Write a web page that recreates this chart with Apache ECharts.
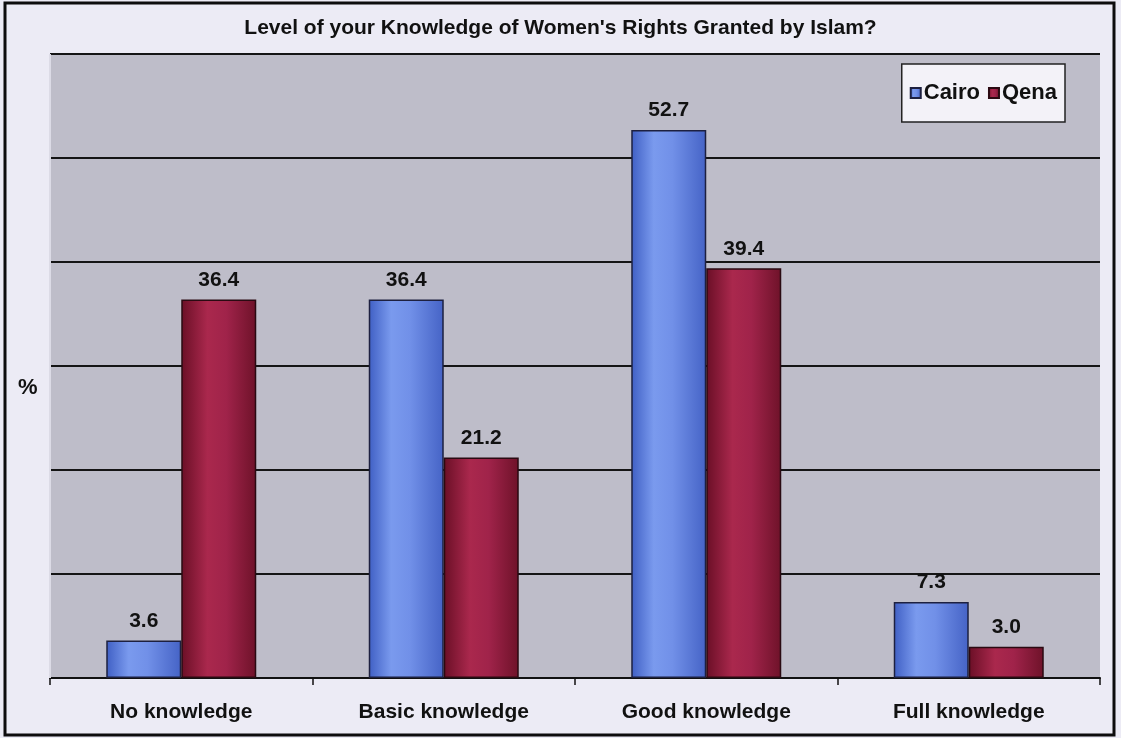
<!DOCTYPE html>
<html>
<head>
<meta charset="utf-8">
<script src="https://cdn.jsdelivr.net/npm/echarts@6/dist/echarts.min.js"></script>
<style>
  html, body { margin: 0; padding: 0; background: #ecebf5; }
  #chart { width: 1121px; height: 738px; }
</style>
</head>
<body>
<div id="chart"></div>
<script>
// Survey answers: share of respondents (%) per knowledge level
const categories = ['No knowledge', 'Basic knowledge', 'Good knowledge', 'Full knowledge'];
const seriesNames = ['Cairo', 'Qena'];
const cairoValues = [3.6, 36.4, 52.7, 7.3];
const qenaValues = [36.4, 21.2, 39.4, 3.0];
const titleText = "Level of your Knowledge of Women's Rights Granted by Islam?";
const yAxisTitle = '%';

const narrowBold = '"Liberation Sans Narrow", "Liberation Sans", Arial, sans-serif';
const plainBold = '"Liberation Sans", Arial, sans-serif';

// Cylinder-like horizontal shading for the bars
function shade(stops) {
  return new echarts.graphic.LinearGradient(0, 0, 1, 0,
    stops.map(([offset, color]) => ({ offset, color })));
}
const blueFill = shade([[0, '#3f5fc4'], [0.3, '#7a9aee'], [0.55, '#7190e8'], [1, '#4563c6']]);
const redFill = shade([[0, '#6a0f26'], [0.35, '#aa284d'], [0.6, '#a0234a'], [1, '#6e1229']]);

const chart = echarts.init(document.getElementById('chart'), null, { renderer: 'canvas' });

const valueLabel = {
  show: true,
  position: 'top',
  distance: 9,
  fontFamily: plainBold,
  fontWeight: 'bold',
  fontSize: 21,
  color: '#111',
  formatter: p => p.value.toFixed(1)
};

chart.setOption({
  backgroundColor: '#ecebf5',
  animation: false,
  title: {
    text: titleText,
    left: 'center',
    top: 13,
    textStyle: { fontFamily: narrowBold, fontWeight: 'bold', fontSize: 21, color: '#111' }
  },
  legend: {
    data: seriesNames,
    right: 56,
    top: 64,
    orient: 'horizontal',
    icon: 'rect',
    itemWidth: 10,
    itemHeight: 10,
    itemGap: 8,
    backgroundColor: '#f3f2f8',
    borderColor: '#222',
    borderWidth: 1.5,
    padding: [18, 8, 18, 8],
    textStyle: { fontFamily: narrowBold, fontWeight: 'bold', fontSize: 22, color: '#111', padding: [0, 0, 0, -2] }
  },
  grid: {
    left: 50,
    right: 21,
    top: 54,
    bottom: 60,
    show: true,
    backgroundColor: '#bebdc9',
    borderWidth: 0
  },
  xAxis: {
    type: 'category',
    data: categories,
    axisLine: { lineStyle: { color: '#111', width: 2 } },
    axisTick: { show: true, length: 7, alignWithLabel: false, lineStyle: { color: '#111', width: 1.5 } },
    axisLabel: {
      margin: 24,
      fontFamily: narrowBold,
      fontWeight: 'bold',
      fontSize: 21,
      color: '#111'
    }
  },
  yAxis: {
    type: 'value',
    min: 0,
    max: 60,
    interval: 10,
    axisLine: { show: false },
    axisTick: { show: false },
    axisLabel: { show: false },
    splitLine: { show: true, lineStyle: { color: '#151515', width: 2 } }
  },
  series: [
    {
      name: seriesNames[0],
      type: 'bar',
      data: cairoValues,
      barWidth: 75,
      barGap: '0%',
      itemStyle: { color: blueFill, borderColor: '#1d2040', borderWidth: 1.5 },
      label: valueLabel
    },
    {
      name: seriesNames[1],
      type: 'bar',
      data: qenaValues,
      barWidth: 75,
      barGap: '0%',
      itemStyle: { color: redFill, borderColor: '#2a0a12', borderWidth: 1.5 },
      label: valueLabel
    }
  ],
  graphic: [
    {
      // value-axis title, set a little below the plot's middle
      type: 'text',
      left: 18,
      top: 377,
      style: { text: yAxisTitle, fontFamily: plainBold, fontWeight: 'bold', fontSize: 22, fill: '#111' },
      silent: true
    },
    {
      // faint light edge on the left side of the plot area
      type: 'line',
      shape: { x1: 50, y1: 54, x2: 50, y2: 678 },
      style: { stroke: '#dcdbe6', lineWidth: 2 },
      silent: true,
      z: 1
    },
    {
      type: 'rect',
      shape: { x: 5, y: 3, width: 1109, height: 732 },
      style: { fill: null, stroke: '#0d0d0d', lineWidth: 3 },
      silent: true,
      z: 100
    }
  ]
});
// Legend colour swatches use the flat mid-tones
chart.setOption({
  series: [
    { name: seriesNames[0], color: '#6f8fe8' },
    { name: seriesNames[1], color: '#9a1f42' }
  ]
});
</script>
</body>
</html>
